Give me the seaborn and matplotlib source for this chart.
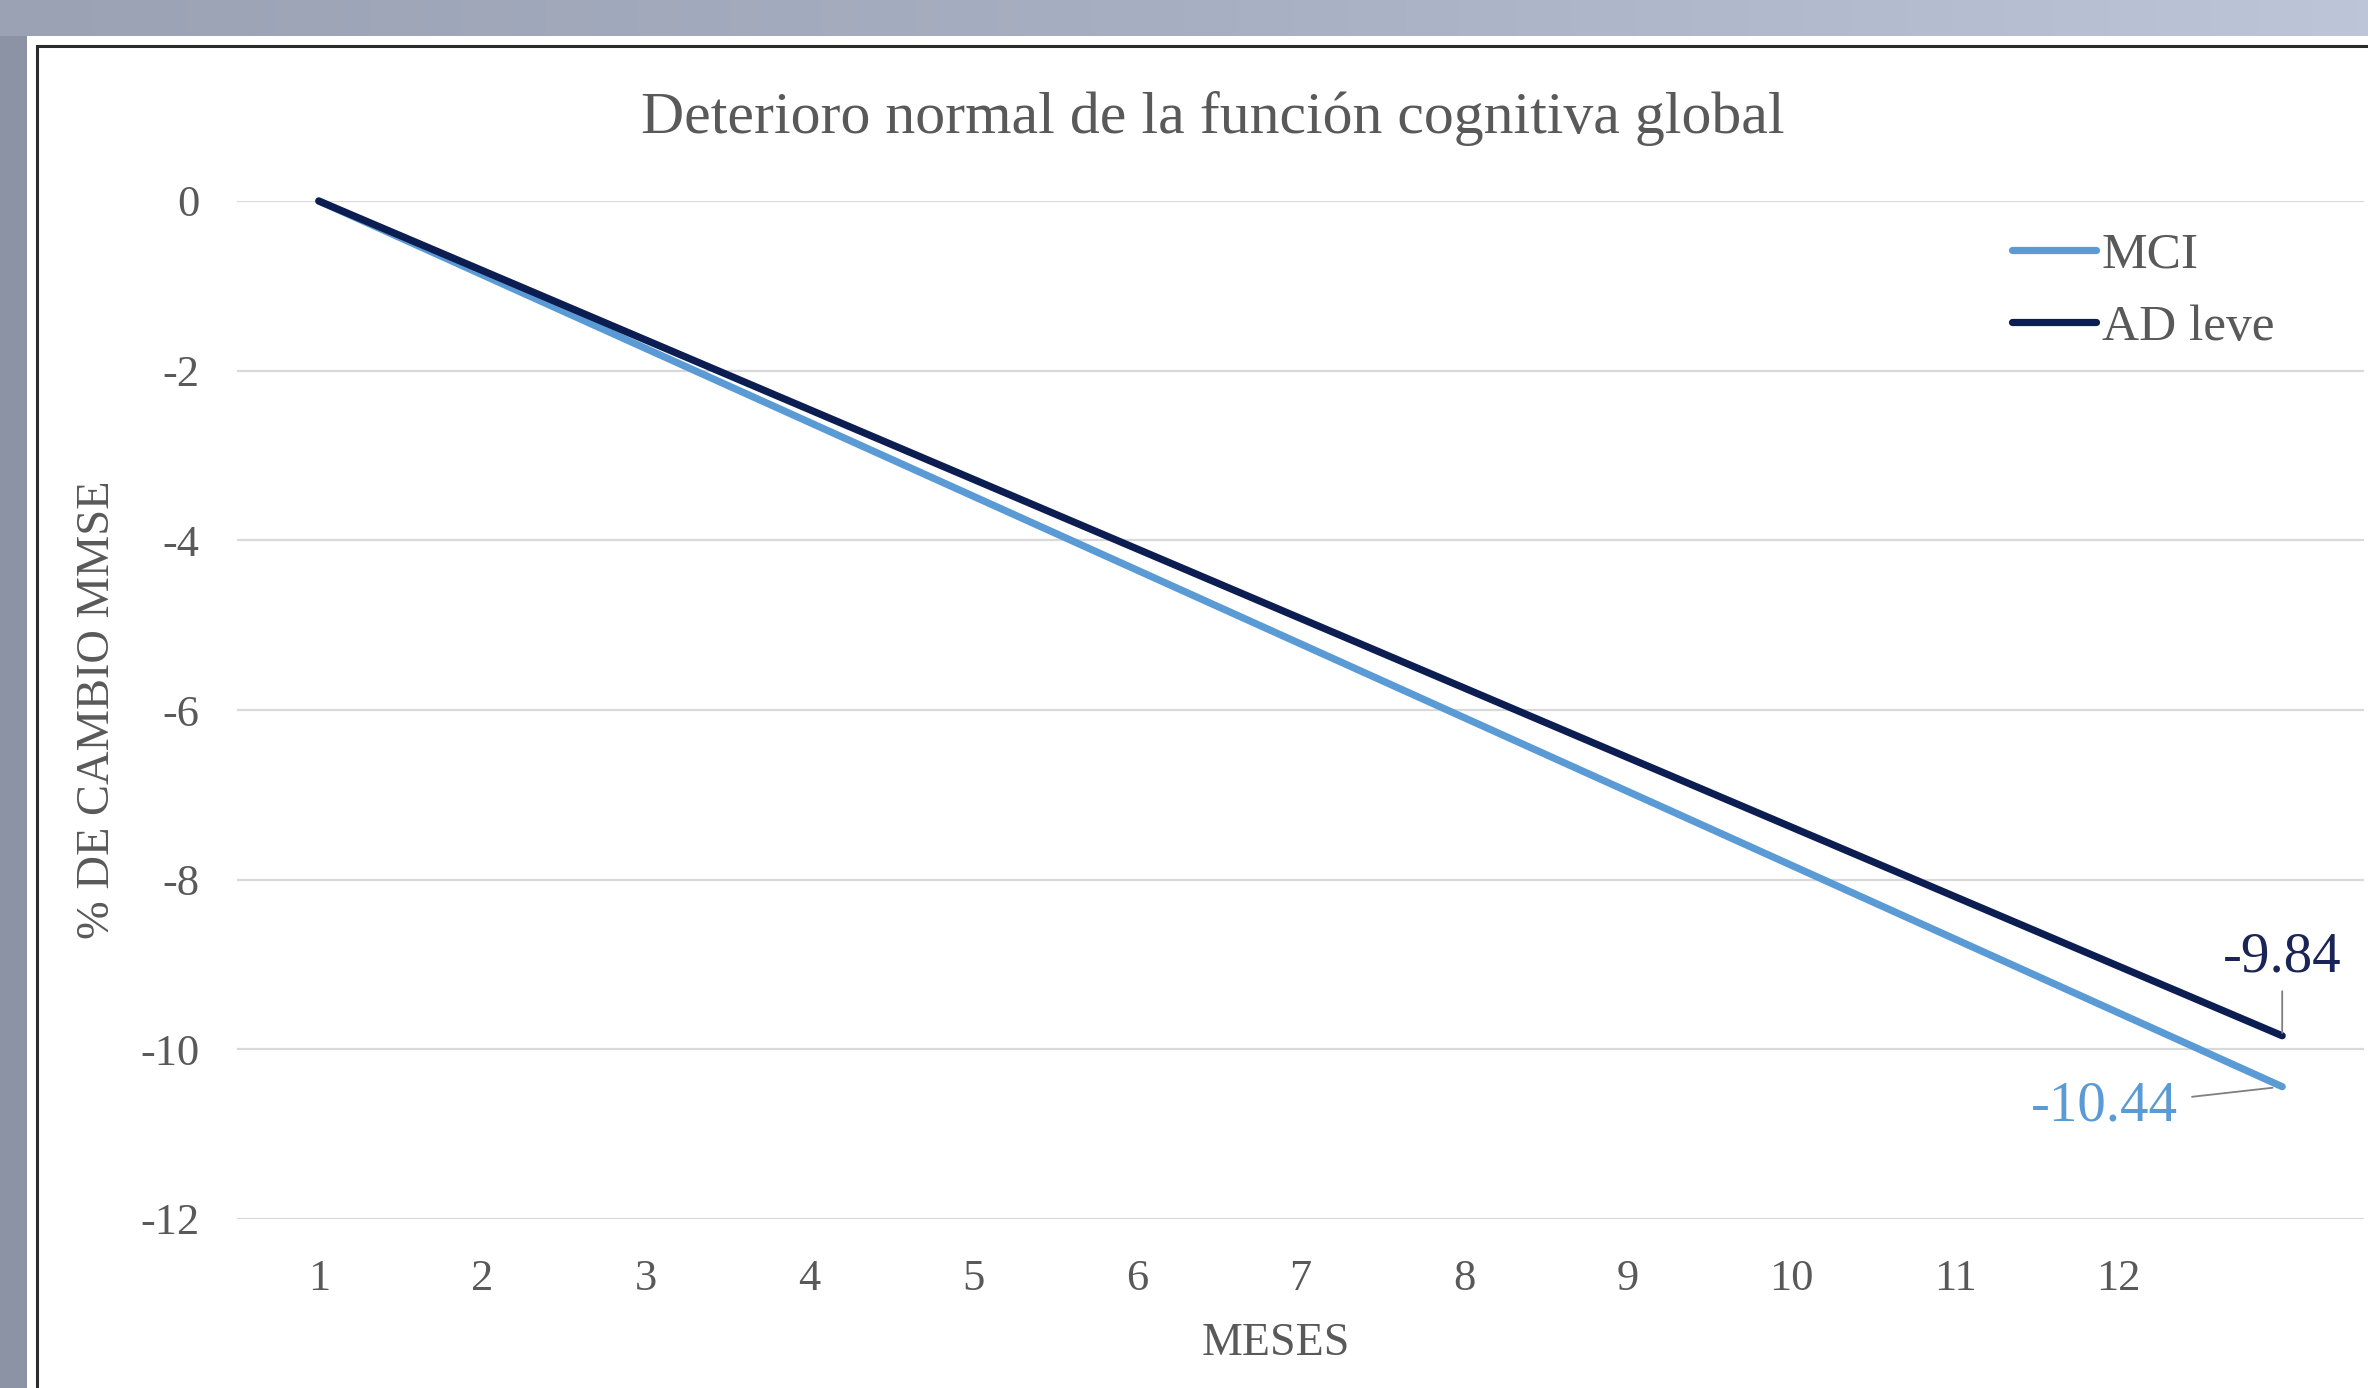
import numpy as np
import pandas as pd
import matplotlib
matplotlib.use("Agg")
import matplotlib.pyplot as plt
from matplotlib.patches import Rectangle
from matplotlib.lines import Line2D
import seaborn as sns

# Monthly MMSE change (%), first and last month of the series
meses = [1, 13]
mci = [0.0, -10.44]
ad_leve = [0.0, -9.84]
series = ["MCI", "AD leve"]
mes_labels = ["1", "2", "3", "4", "5", "6", "7", "8", "9", "10", "11", "12"]
y_ticks = [0, -2, -4, -6, -8, -10, -12]

df = pd.DataFrame({
    "mes": meses * 2,
    "valor": mci + ad_leve,
    "serie": [series[0]] * len(meses) + [series[1]] * len(meses),
})

sns.set_theme(style="white")
plt.rcParams["font.family"] = ["Liberation Serif", "DejaVu Serif"]

W, H = 2368, 1388
fig = plt.figure(figsize=(W / 100, H / 100), dpi=100)

# Window-like backdrop: grey-blue gradient with a white panel and dark border
bg = fig.add_axes([0, 0, 1, 1], zorder=-10)
bg.set_xlim(0, W)
bg.set_ylim(H, 0)
bg.axis("off")
grad = np.linspace(0, 1, 256)[None, :]
cmap = matplotlib.colors.LinearSegmentedColormap.from_list("bgr", ["#9aa2b4", "#a7afc2", "#bcc6d8"])
bg.imshow(grad, cmap=cmap, extent=[0, W, H, 0], aspect="auto")
bg.add_patch(Rectangle((0, 36), 27, H, color="#8b93a4", lw=0))
bg.add_patch(Rectangle((27, 36), W, H, color="white", lw=0))
bg.plot([37, 37, W], [H, 46, 46], color="#2b2b2b", lw=2.2, solid_joinstyle="miter")

colors = {"MCI": "#5b9bd5", "AD leve": "#0c1d52"}
text_grey = "#595959"
lw_series = 5.2

ax = fig.add_axes([237 / W, (H - 1219) / H, (2364 - 237) / W, 1018 / H])
ax.set_facecolor("none")
sns.lineplot(data=df, x="mes", y="valor", hue="serie", palette=colors,
             linewidth=lw_series, ax=ax, legend=False, clip_on=False,
             solid_capstyle="round")

ax.set_xlim(0.5, 13.5)
ax.set_ylim(-12, 0)
ax.set_xticks(range(1, len(mes_labels) + 1))
ax.set_xticklabels(mes_labels)
ax.set_yticks(y_ticks)
ax.set_yticklabels([str(v) for v in y_ticks])
ax.tick_params(axis="both", length=0, labelsize=32, labelcolor=text_grey)
ax.tick_params(axis="y", pad=27)
ax.tick_params(axis="x", pad=29)
ax.yaxis.grid(True, color="#d9d9d9", linewidth=1.6)
ax.xaxis.grid(False)
for s in ax.spines.values():
    s.set_visible(False)
ax.set_xlabel("")
ax.set_ylabel("")

fig.text(1213 / W, 1 - 118 / H, "Deterioro normal de la función cognitiva global",
         ha="center", va="center", fontsize=43, color=text_grey)
fig.text(1276 / W, 1 - 1344 / H, "MESES", ha="center", va="center",
         fontsize=33, color=text_grey)
fig.text(98 / W, 1 - 710 / H, "% DE CAMBIO MMSE", ha="center", va="center",
         rotation=90, fontsize=33.5, color=text_grey)

# End-point value labels with leader lines
ax.annotate(f"{ad_leve[-1]:.2f}", xy=(meses[-1], ad_leve[-1]),
            xytext=(0, 78), textcoords="offset pixels",
            ha="center", va="center", fontsize=41, color="#1a2456",
            arrowprops=dict(arrowstyle="-", color="#7f7f7f", lw=1.3,
                            shrinkA=3, shrinkB=2))
ax.annotate(f"{mci[-1]:.2f}", xy=(meses[-1], mci[-1]),
            xytext=(-178, -20), textcoords="offset pixels",
            ha="center", va="center", fontsize=41, color="#5b9bd5",
            arrowprops=dict(arrowstyle="-", color="#7f7f7f", lw=1.3,
                            shrinkA=8, shrinkB=7,
                            connectionstyle="arc3,rad=0"))

handles = [Line2D([0], [0], color=colors[s], lw=lw_series, solid_capstyle="round") for s in series]
fig.legend(handles, series, loc="upper left", bbox_to_anchor=(2012 / W, 1 - 232 / H),
           frameon=False, fontsize=37, handlelength=1.63, handletextpad=0.12,
           labelspacing=0.48, borderpad=0, borderaxespad=0, labelcolor=text_grey)

fig.savefig("out.png", dpi=100)
